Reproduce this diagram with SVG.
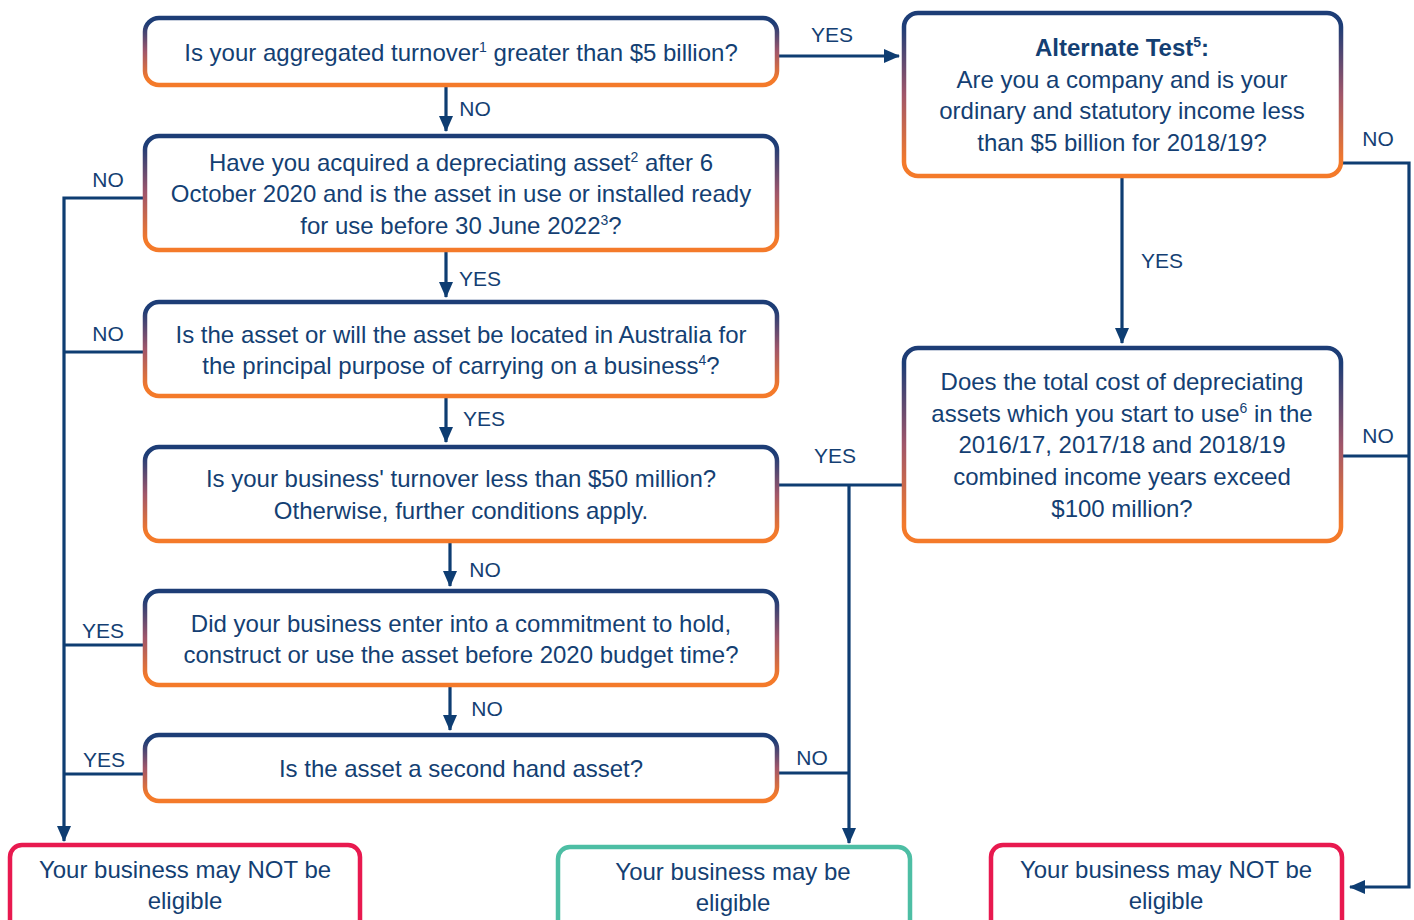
<svg xmlns="http://www.w3.org/2000/svg" width="1414" height="920" viewBox="0 0 1414 920">
<defs>
<linearGradient id="g" x1="0" y1="0" x2="0" y2="1">
<stop offset="0.08" stop-color="#1d3d76"/>
<stop offset="0.5" stop-color="#a0566a"/>
<stop offset="0.92" stop-color="#f47a2a"/>
</linearGradient>
<marker id="ah2" markerWidth="16" markerHeight="14" refX="15" refY="7" orient="auto" markerUnits="userSpaceOnUse" viewBox="0 0 16 14">
<path d="M0,0 L16,7 L0,14 z" fill="#0e3d72"/>
</marker>
</defs>
<style>
.box{fill:#fff;stroke:url(#g);stroke-width:4.5}
.red{fill:#fff;stroke:#e8194f;stroke-width:4.5}
.green{fill:#fff;stroke:#4dbea4;stroke-width:4.5}
text{font-family:"Liberation Sans",Arial,sans-serif;fill:#143f73}
.t{font-size:24px;text-anchor:middle}
.b{font-weight:bold}
.l{font-size:21px;text-anchor:middle}
.c{fill:none;stroke:#0e3d72;stroke-width:3.2}
.sup{font-size:14px}
</style>
<g id="connectors">
<path class="c" d="M779,56 H899" marker-end="url(#ah2)"/>
<path class="c" d="M446,87 V131" marker-end="url(#ah2)"/>
<path class="c" d="M446,252 V297" marker-end="url(#ah2)"/>
<path class="c" d="M446,398 V442" marker-end="url(#ah2)"/>
<path class="c" d="M450,543 V586" marker-end="url(#ah2)"/>
<path class="c" d="M450,687 V730" marker-end="url(#ah2)"/>
<path class="c" d="M143,198 H64 V841" marker-end="url(#ah2)"/>
<path class="c" d="M143,352 H64"/>
<path class="c" d="M143,645 H64"/>
<path class="c" d="M143,774 H64"/>
<path class="c" d="M779,485 H902"/>
<path class="c" d="M849,485 V843" marker-end="url(#ah2)"/>
<path class="c" d="M779,773 H849"/>
<path class="c" d="M1122,178 V343" marker-end="url(#ah2)"/>
<path class="c" d="M1343,163 H1409 V887 H1350" marker-end="url(#ah2)"/>
<path class="c" d="M1343,456 H1409"/>
<text class="l" x="832" y="42">YES</text>
<text class="l" x="475" y="116">NO</text>
<text class="l" x="480" y="286">YES</text>
<text class="l" x="484" y="426">YES</text>
<text class="l" x="485" y="577">NO</text>
<text class="l" x="487" y="716">NO</text>
<text class="l" x="108" y="187">NO</text>
<text class="l" x="108" y="341">NO</text>
<text class="l" x="103" y="638">YES</text>
<text class="l" x="104" y="767">YES</text>
<text class="l" x="835" y="463">YES</text>
<text class="l" x="812" y="765">NO</text>
<text class="l" x="1162" y="268">YES</text>
<text class="l" x="1378" y="146">NO</text>
<text class="l" x="1378" y="443">NO</text>
</g>
<g id="n1">
<rect class="box" x="145" y="18" width="632" height="67" rx="14"/>
<text class="t" x="461" y="61">Is your aggregated turnover<tspan class="sup" dy="-9">1</tspan><tspan dy="9"> greater than $5 billion?</tspan></text>
</g>
<g id="n2">
<rect class="box" x="145" y="136" width="632" height="114" rx="14"/>
<text class="t" x="461" y="171">Have you acquired a depreciating asset<tspan class="sup" dy="-9">2</tspan><tspan dy="9"> after 6</tspan></text>
<text class="t" x="461" y="202">October 2020 and is the asset in use or installed ready</text>
<text class="t" x="461" y="234">for use before 30 June 2022<tspan class="sup" dy="-9">3</tspan><tspan dy="9">?</tspan></text>
</g>
<g id="n3">
<rect class="box" x="145" y="302" width="632" height="94" rx="14"/>
<text class="t" x="461" y="343">Is the asset or will the asset be located in Australia for</text>
<text class="t" x="461" y="374">the principal purpose of carrying on a business<tspan class="sup" dy="-9">4</tspan><tspan dy="9">?</tspan></text>
</g>
<g id="n4">
<rect class="box" x="145" y="447" width="632" height="94" rx="14"/>
<text class="t" x="461" y="487">Is your business' turnover less than $50 million?</text>
<text class="t" x="461" y="519">Otherwise, further conditions apply.</text>
</g>
<g id="n5">
<rect class="box" x="145" y="591" width="632" height="94" rx="14"/>
<text class="t" x="461" y="632">Did your business enter into a commitment to hold,</text>
<text class="t" x="461" y="663">construct or use the asset before 2020 budget time?</text>
</g>
<g id="n6">
<rect class="box" x="145" y="735" width="632" height="66" rx="14"/>
<text class="t" x="461" y="777">Is the asset a second hand asset?</text>
</g>
<g id="n7">
<rect class="box" x="904" y="13" width="437" height="163" rx="14"/>
<text class="t b" x="1122" y="56">Alternate Test<tspan class="sup" dy="-9">5</tspan><tspan dy="9">:</tspan></text>
<text class="t" x="1122" y="88">Are you a company and is your</text>
<text class="t" x="1122" y="119">ordinary and statutory income less</text>
<text class="t" x="1122" y="151">than $5 billion for 2018/19?</text>
</g>
<g id="n8">
<rect class="box" x="904" y="348" width="437" height="193" rx="14"/>
<text class="t" x="1122" y="390">Does the total cost of depreciating</text>
<text class="t" x="1122" y="422">assets which you start to use<tspan class="sup" dy="-9">6</tspan><tspan dy="9"> in the</tspan></text>
<text class="t" x="1122" y="453">2016/17, 2017/18 and 2018/19</text>
<text class="t" x="1122" y="485">combined income years exceed</text>
<text class="t" x="1122" y="517">$100 million?</text>
</g>
<g id="t1">
<rect class="red" x="10" y="845" width="350" height="100" rx="12"/>
<text class="t" x="185" y="878">Your business may NOT be</text>
<text class="t" x="185" y="909">eligible</text>
</g>
<g id="t2">
<rect class="green" x="558" y="847" width="352" height="100" rx="12"/>
<text class="t" x="733" y="880">Your business may be</text>
<text class="t" x="733" y="911">eligible</text>
</g>
<g id="t3">
<rect class="red" x="991" y="845" width="351" height="100" rx="12"/>
<text class="t" x="1166" y="878">Your business may NOT be</text>
<text class="t" x="1166" y="909">eligible</text>
</g>
</svg>
